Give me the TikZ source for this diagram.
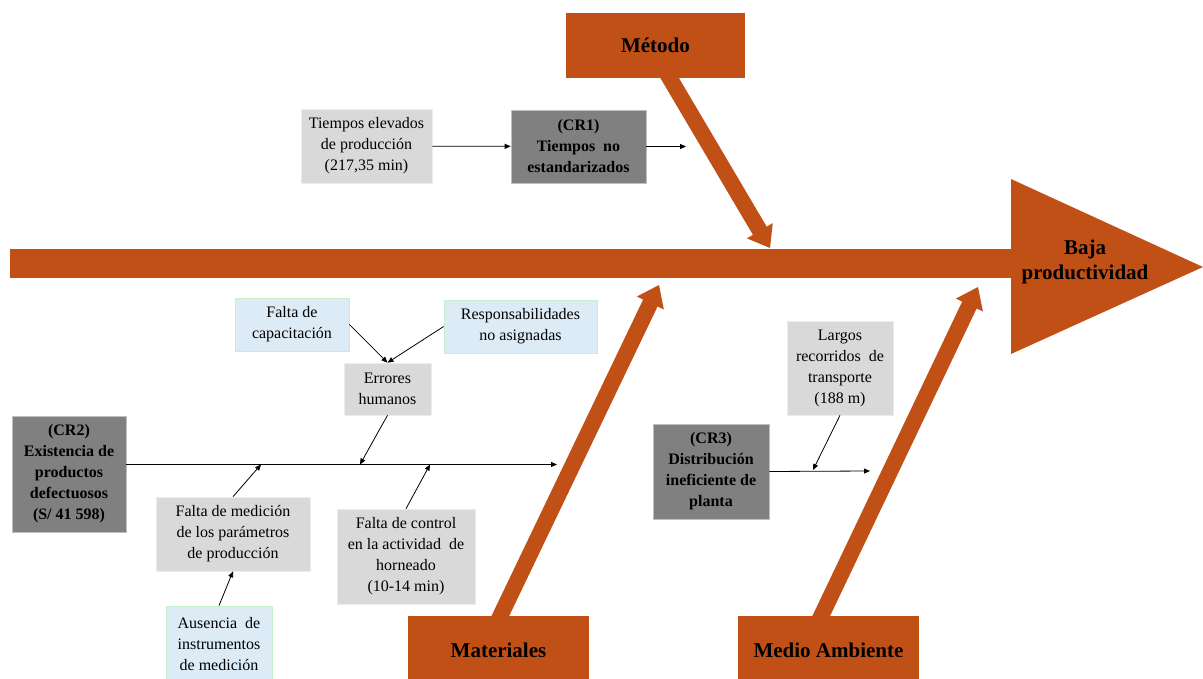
\documentclass[tikz,border=0pt]{standalone}
\usepackage{fontspec}
\setmainfont{Liberation Serif}
\usetikzlibrary{calc,arrows.meta}

\definecolor{brick}{RGB}{192,80,22}
\definecolor{boxgray}{RGB}{217,217,217}
\definecolor{darkbox}{RGB}{128,128,128}
\definecolor{paleblue}{RGB}{221,235,247}
\definecolor{palegreen}{RGB}{198,239,206}

% thick category arrow: tail, tip
\newcommand\bigarrow[2]{%
  \coordinate (ba-base) at ($(#2)!20pt!(#1)$);
  \fill[brick] ($(#1)!8pt!90:(#2)$) -- ($(ba-base)!8pt!90:(#2)$)
    -- ($(ba-base)!15pt!90:(#2)$) -- (#2) -- ($(ba-base)!15pt!-90:(#2)$)
    -- ($(ba-base)!8pt!-90:(#2)$) -- ($(#1)!8pt!-90:(#2)$) -- cycle;}

\begin{document}
\begin{tikzpicture}[x=1pt,y=-1pt,
  box/.style={inner sep=0pt, align=center, text=black,
    font=\fontsize{16}{21}\selectfont},
  cause/.style={box, fill=boxgray, draw=white!50!boxgray, line width=0.6pt},
  rootc/.style={box, fill=darkbox, draw=white!50!darkbox, line width=0.6pt,
    font=\bfseries\fontsize{16}{21}\selectfont},
  subc/.style={box, fill=paleblue, draw=palegreen, line width=0.8pt},
  category/.style={fill=brick, inner sep=0pt, text=black,
    font=\bfseries\fontsize{21}{25}\selectfont},
  conn/.style={draw=black, line width=0.8pt, -{Triangle[length=6pt,width=5pt]}}
]
\useasboundingbox (0,0) rectangle (1203,679);

% spine and effect head
\fill[brick] (10,249) rectangle (1012,278);
\fill[brick] (1011,179) -- (1203,267) -- (1011,354) -- cycle;
\node[align=center, font=\bfseries\fontsize{21}{25}\selectfont] (efecto) at (1085,262)
  {Baja\\productividad};

% category arrows
\coordinate (met-tail) at (659,60);
\coordinate (met-tip)  at (770,248);
\coordinate (mat-tail) at (484,650);
\coordinate (mat-tip)  at (659,285);
\coordinate (med-tail) at (805,650);
\coordinate (med-tip)  at (978,287);
\bigarrow{met-tail}{met-tip}
\bigarrow{mat-tail}{mat-tip}
\bigarrow{med-tail}{med-tip}

% category boxes
\node[category, minimum width=179pt, minimum height=65pt] (metodo) at (655.5,45.5) {Método};
\node[category, minimum width=181pt, minimum height=69pt] (materiales) at (498.5,650.5) {Materiales};
\node[category, minimum width=181pt, minimum height=69pt] (medio) at (828.5,650.5) {Medio Ambiente};

% Método branch
\node[cause, minimum width=131pt, minimum height=74pt] (tiempos) at (366.5,146)
  {Tiempos elevados\\de producción\\(217,35 min)};
\node[rootc, minimum width=135pt, minimum height=73pt] (cr1) at (578.5,146.5)
  {(CR1)\\Tiempos\ \ no\\estandarizados};
\coordinate (cr1-end) at (686,146.5);
\draw[conn] (tiempos) -- (cr1);
\draw[conn] (cr1) -- (cr1-end);

% Materiales branch
\node[subc, minimum width=114pt, minimum height=53pt] (capac) at (292,324.5)
  {Falta de\\capacitación};
\node[subc, minimum width=153pt, minimum height=53pt] (resp) at (520.5,326.5)
  {Responsabilidades\\no asignadas};
\node[cause, minimum width=87pt, minimum height=52pt] (errores) at (387.5,389)
  {Errores\\humanos};
\node[rootc, minimum width=114pt, minimum height=116pt] (cr2) at (69,474)
  {(CR2)\\Existencia de\\productos\\defectuosos\\(S/ 41 598)};
\node[cause, minimum width=154pt, minimum height=74pt] (medicion) at (233,534)
  {Falta de medición\\de los parámetros\\de producción};
\node[cause, minimum width=138pt, minimum height=95pt] (control) at (406,556.5)
  {Falta de control\\en la actividad\ \ de\\horneado\\(10-14 min)};
\node[subc, minimum width=106pt, minimum height=76pt] (ausencia) at (219,644)
  {Ausencia\ \ de\\instrumentos\\de medición};

\coordinate (cr2-end) at (557,464.5);
\coordinate (p-med) at (261,464.5);
\coordinate (p-err) at (360,464.5);
\coordinate (p-ctl) at (430,464.5);
\draw[conn] (cr2.east |- cr2-end) -- (cr2-end);
\draw[conn] (capac.east) -- (errores.north);
\draw[conn] (resp.west) -- (errores.north);
\draw[conn] (errores.south) -- (p-err);
\draw[conn] (medicion.north) -- (p-med);
\draw[conn] (control.north) -- (p-ctl);
\draw[conn] (ausencia.north) -- (medicion.south);

% Medio Ambiente branch
\node[cause, minimum width=106pt, minimum height=94pt] (largos) at (840,368)
  {Largos\\recorridos\ \ de\\transporte\\(188 m)};
\node[rootc, minimum width=116pt, minimum height=95pt] (cr3) at (711,471.5)
  {(CR3)\\Distribución\\ineficiente de\\planta};
\coordinate (cr3-end) at (870,471);
\coordinate (p-cr3) at (813,470);
\draw[conn] (cr3.east) -- (cr3-end);
\draw[conn] (largos.south) -- (p-cr3);
\end{tikzpicture}
\end{document}
